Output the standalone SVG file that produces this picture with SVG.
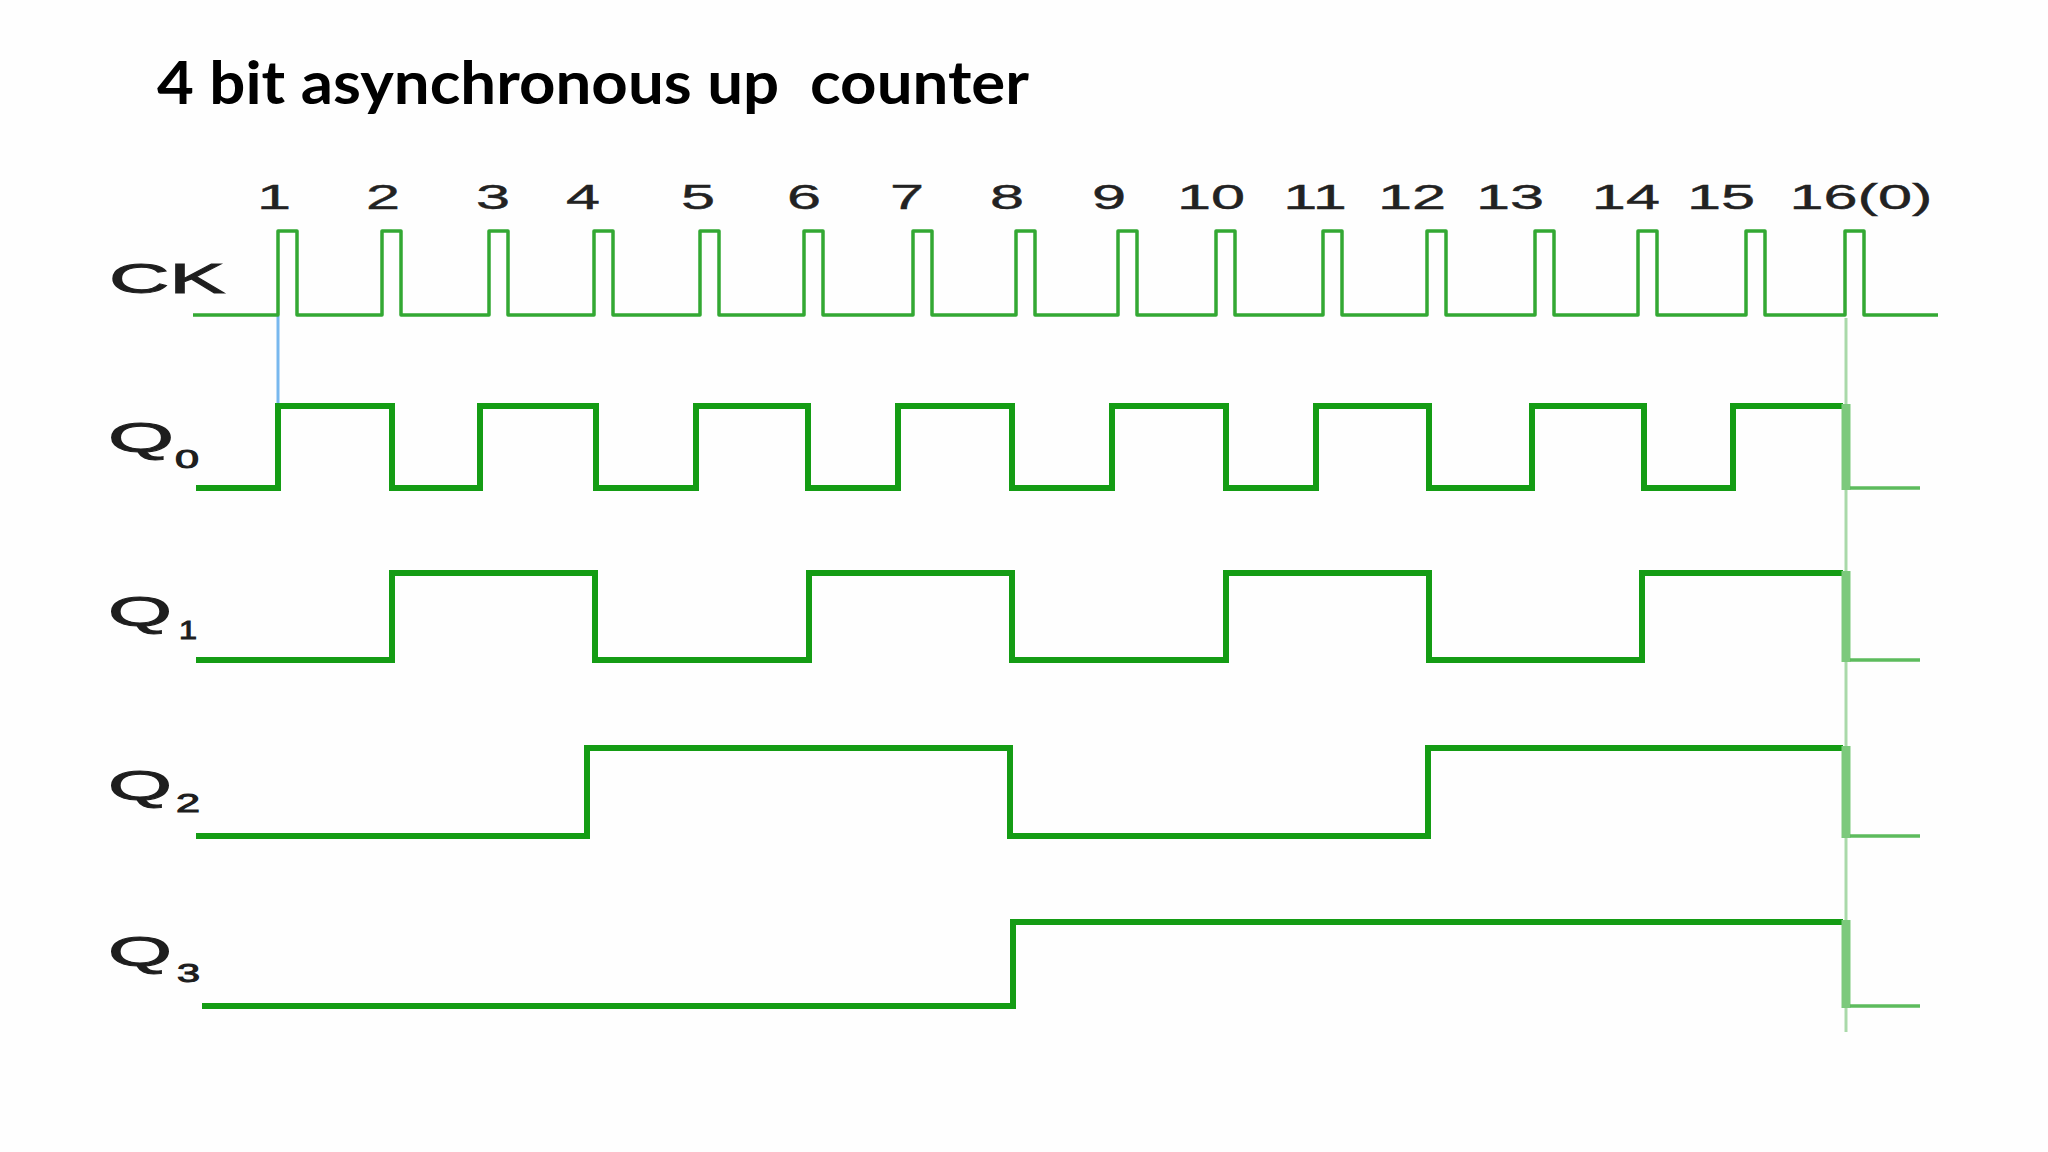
<svg xmlns="http://www.w3.org/2000/svg" width="2048" height="1152" viewBox="0 0 2048 1152">
  <style>
    .title { font-family: Lato, "Liberation Sans", Arial, sans-serif; font-weight: 700; font-size: 60px; fill: #000; }
    .lbl { font-family: "Liberation Sans", Arial, sans-serif; fill: #1e1e1e; stroke: #1e1e1e; stroke-width: 1; }
    .num { font-family: "Liberation Sans", Arial, sans-serif; font-size: 35px; fill: #222; text-anchor: middle; stroke: #222; stroke-width: 0.4; }
    .ck { fill: none; stroke: #33a833; stroke-width: 3.5; stroke-linejoin: round; }
    .q { fill: none; stroke: #149c14; stroke-width: 6; stroke-linejoin: miter; }
    .drop { fill: none; stroke: #7cc97c; stroke-width: 9; }
    .tail { fill: none; stroke: #5dbb5d; stroke-width: 3.5; }
    .guide { fill: none; stroke: #a9d9a9; stroke-width: 3; }
    .blue { fill: none; stroke: #78b8ee; stroke-width: 3; }
  </style>
  <rect width="2048" height="1152" fill="#fefefe"/>

  <text class="title" x="157" y="104" textLength="872" lengthAdjust="spacingAndGlyphs" xml:space="preserve">4 bit asynchronous up  counter</text>

  <g id="count-labels" transform="scale(1.75 1)">
    <text class="num" x="156.6" y="209">1</text>
    <text class="num" x="218.9" y="209">2</text>
    <text class="num" x="281.7" y="209">3</text>
    <text class="num" x="333.1" y="209">4</text>
    <text class="num" x="398.9" y="209">5</text>
    <text class="num" x="459.4" y="209">6</text>
    <text class="num" x="518.3" y="209">7</text>
    <text class="num" x="575.4" y="209">8</text>
    <text class="num" x="633.7" y="209">9</text>
    <text class="num" x="692" y="209">10</text>
    <text class="num" x="751.4" y="209">11</text>
    <text class="num" x="806.9" y="209">12</text>
    <text class="num" x="862.9" y="209">13</text>
    <text class="num" x="929.1" y="209">14</text>
    <text class="num" x="983.4" y="209">15</text>
    <text class="num" x="1063.4" y="209">16(0)</text>
  </g>

  <g id="guides">
    <line class="guide" x1="1846" y1="318" x2="1846" y2="1032"/>
    <line class="blue" x1="278" y1="316" x2="278" y2="406"/>
  </g>

  <g id="CK">
    <text class="lbl" x="109" y="293" font-size="43" textLength="116" lengthAdjust="spacingAndGlyphs">CK</text>
    <path class="ck" d="M193,315 H278 V231 H297 V315 H382 V231 H401 V315 H489 V231 H508 V315 H594 V231 H613 V315 H700 V231 H719 V315 H804 V231 H823 V315 H913 V231 H932 V315 H1016 V231 H1035 V315 H1118 V231 H1137 V315 H1216 V231 H1235 V315 H1323 V231 H1342 V315 H1427 V231 H1446 V315 H1535 V231 H1554 V315 H1638 V231 H1657 V315 H1746 V231 H1765 V315 H1845 V231 H1864 V315 H1938"/>
  </g>

  <g id="Q0">
    <text class="lbl" x="108" y="452" font-size="43" textLength="66" lengthAdjust="spacingAndGlyphs">Q</text>
    <text class="lbl" x="175" y="468" font-size="25" textLength="24" lengthAdjust="spacingAndGlyphs">0</text>
    <path class="q" d="M196,488 H278 V406 H392 V488 H480 V406 H596 V488 H696 V406 H808 V488 H898 V406 H1012 V488 H1112 V406 H1226 V488 H1316 V406 H1429 V488 H1532 V406 H1644 V488 H1733 V406 H1843"/>
    <path class="drop" d="M1846,404 V490"/>
    <path class="tail" d="M1850,488 H1920"/>
  </g>

  <g id="Q1">
    <text class="lbl" x="108" y="626" font-size="43" textLength="64" lengthAdjust="spacingAndGlyphs">Q</text>
    <text class="lbl" x="179" y="639" font-size="25" textLength="18" lengthAdjust="spacingAndGlyphs">1</text>
    <path class="q" d="M196,660 H392 V573 H595 V660 H809 V573 H1012 V660 H1226 V573 H1429 V660 H1642 V573 H1843"/>
    <path class="drop" d="M1846,571 V662"/>
    <path class="tail" d="M1850,660 H1920"/>
  </g>

  <g id="Q2">
    <text class="lbl" x="108" y="800" font-size="43" textLength="64" lengthAdjust="spacingAndGlyphs">Q</text>
    <text class="lbl" x="176" y="812" font-size="25" textLength="24" lengthAdjust="spacingAndGlyphs">2</text>
    <path class="q" d="M196,836 H587 V748 H1010 V836 H1428 V748 H1843"/>
    <path class="drop" d="M1846,746 V838"/>
    <path class="tail" d="M1850,836 H1920"/>
  </g>

  <g id="Q3">
    <text class="lbl" x="108" y="966" font-size="43" textLength="64" lengthAdjust="spacingAndGlyphs">Q</text>
    <text class="lbl" x="177" y="982" font-size="25" textLength="23" lengthAdjust="spacingAndGlyphs">3</text>
    <path class="q" d="M202,1006 H1013 V922 H1843"/>
    <path class="drop" d="M1846,920 V1008"/>
    <path class="tail" d="M1850,1006 H1920"/>
  </g>
</svg>
